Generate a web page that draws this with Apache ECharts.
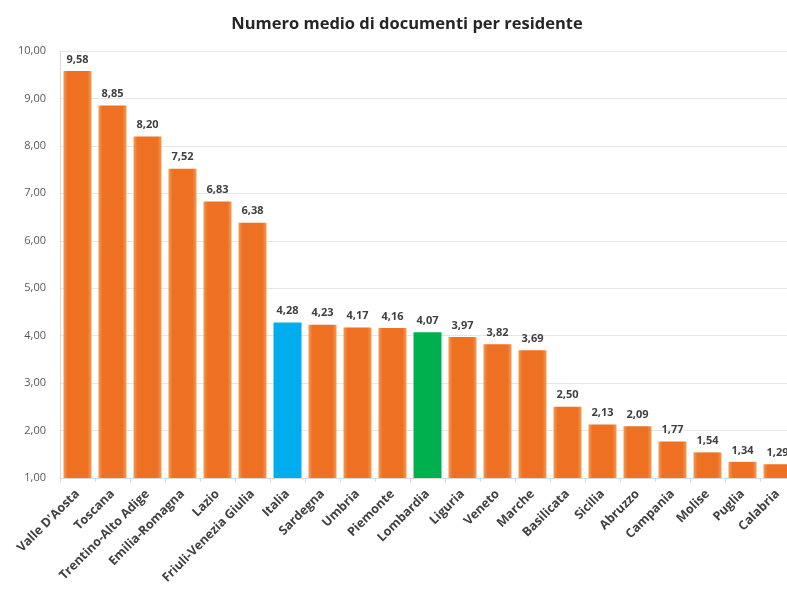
<!DOCTYPE html>
<html>
<head>
<meta charset="utf-8">
<script src="https://cdn.jsdelivr.net/npm/echarts@6/dist/echarts.min.js"></script>
<style>
  html, body { margin: 0; padding: 0; background: #ffffff; overflow: hidden; }
  /* the plot runs slightly past the right edge, so the canvas is a bit wider than the page */
  #chart { width: 800px; height: 590px; }
</style>
</head>
<body>
<div id="chart"></div>
<script>
// Regioni e numero medio di documenti per residente
var categories = ['Valle D\'Aosta', 'Toscana', 'Trentino-Alto Adige', 'Emilia-Romagna', 'Lazio',
  'Friuli-Venezia Giulia', 'Italia', 'Sardegna', 'Umbria', 'Piemonte', 'Lombardia', 'Liguria',
  'Veneto', 'Marche', 'Basilicata', 'Sicilia', 'Abruzzo', 'Campania', 'Molise', 'Puglia', 'Calabria'];
var values = [9.58, 8.85, 8.20, 7.52, 6.83, 6.38, 4.28, 4.23, 4.17, 4.16, 4.07, 3.97,
  3.82, 3.69, 2.50, 2.13, 2.09, 1.77, 1.54, 1.34, 1.29];
var yTicks = [1, 2, 3, 4, 5, 6, 7, 8, 9, 10];

var highlight = { 'Italia': '#00AEEF', 'Lombardia': '#00B04F' };

function barColor(name) {
  if (highlight[name]) return highlight[name];
  return {
    type: 'linear', x: 0, y: 0, x2: 1, y2: 0,
    colorStops: [
      { offset: 0, color: '#F49A55' },
      { offset: 0.15, color: '#EE7022' },
      { offset: 0.85, color: '#EE7022' },
      { offset: 1, color: '#F49A55' }
    ]
  };
}

function fmt(v) { return v.toFixed(2).replace('.', ','); }

var chart = echarts.init(document.getElementById('chart'));
chart.setOption({
  animation: false,
  backgroundColor: '#ffffff',
  title: {
    text: 'Numero medio di documenti per residente',
    left: 402, top: 11, textAlign: 'center',
    textStyle: { fontFamily: 'Open Sans', fontWeight: 'bold', fontSize: 16.5, color: '#262626' }
  },
  grid: { left: 60, top: 51, bottom: 112, width: 735 },
  xAxis: {
    type: 'category',
    data: categories,
    axisLine: { lineStyle: { color: '#D9D9D9' } },
    axisTick: { show: true, length: 4, lineStyle: { color: '#D9D9D9' } },
    axisLabel: {
      interval: 0, rotate: 45, margin: 14,
      fontFamily: 'Open Sans', fontWeight: 'bold', fontSize: 12.5, color: '#404040'
    }
  },
  yAxis: {
    type: 'value',
    min: yTicks[0], max: yTicks[yTicks.length - 1], interval: 1,
    axisLine: { show: true, lineStyle: { color: '#D9D9D9' } },
    axisTick: { show: false },
    splitLine: { lineStyle: { color: '#E6E6E6' } },
    axisLabel: {
      margin: 14, fontFamily: 'Open Sans', fontSize: 11, color: '#595959',
      formatter: function (v) { return fmt(v); }
    }
  },
  series: [{
    type: 'bar',
    barCategoryGap: '20%',
    data: values.map(function (v, i) {
      return { value: v, itemStyle: { color: barColor(categories[i]) } };
    }),
    label: {
      show: true, position: 'top', distance: 6,
      fontFamily: 'Open Sans', fontWeight: 'bold', fontSize: 11, color: '#404040',
      formatter: function (p) { return fmt(p.value); }
    }
  }]
});
</script>
</body>
</html>
